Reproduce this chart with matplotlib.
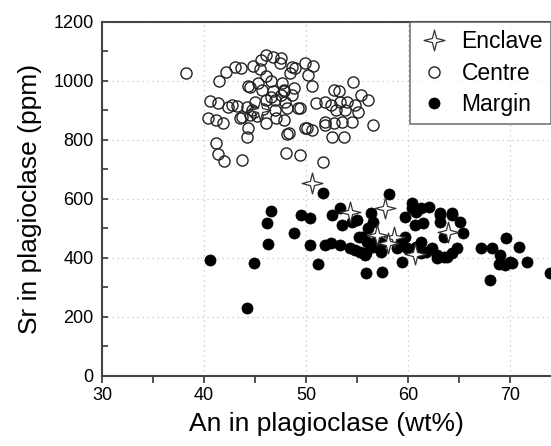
import numpy as np
import matplotlib
matplotlib.use("Agg")
import matplotlib.pyplot as plt
from matplotlib.path import Path
from matplotlib.ticker import MultipleLocator

plt.rcParams['font.family'] = ['Liberation Sans', 'DejaVu Sans']

# ---- data ----
centre_an = [38.2, 41.5, 42.2, 43.0, 43.6, 44.8, 45.6, 46.1, 46.8, 47.5, 47.4, 48.6, 48.4,
             45.5, 46.1, 45.3, 44.5, 46.6, 47.6, 48.6, 47.5, 46.6, 45.0, 40.6, 41.4, 42.4,
             43.2, 44.2, 44.7, 45.8, 47.0, 48.1, 49.2, 40.4, 41.2, 41.9, 43.5, 44.5, 45.2,
             46.1, 47.1, 44.3, 44.2, 41.2, 41.4, 42.0, 43.7, 48.0, 49.4, 48.9, 49.9, 50.7,
             50.2, 50.6, 47.8, 49.4, 51.0, 51.9, 52.7, 53.2, 54.6, 55.4, 56.1, 54.0, 53.3,
             52.4, 52.9, 53.8, 54.8, 55.1, 51.9, 52.7, 53.5, 54.5, 56.6, 50.1, 50.6, 52.5,
             53.7, 48.1, 51.7, 44.3, 45.7, 46.8, 47.8, 48.8, 46.1, 47.0, 47.9, 43.7, 44.9,
             47.8, 49.9, 51.9, 48.3, 42.7]
centre_sr = [1026, 998, 1029, 1046, 1043, 1051, 1071, 1088, 1082, 1077, 1062, 1048, 1028,
             1039, 1015, 992, 979, 998, 992, 953, 953, 947, 930, 932, 926, 911,
             915, 911, 902, 904, 902, 907, 907, 873, 868, 856, 873, 885, 881,
             856, 873, 839, 811, 788, 751, 729, 732, 757, 749, 1043, 1060, 1049,
             1020, 981, 964, 907, 924, 930, 969, 964, 995, 953, 936, 930, 930,
             919, 902, 902, 919, 896, 862, 856, 862, 862, 851, 839, 834, 811,
             811, 820, 726, 981, 969, 964, 969, 975, 936, 936, 930, 879, 896,
             868, 839, 851, 822, 919]

margin_an = [46.6, 46.2, 48.8, 46.3, 40.6, 44.9, 44.2, 49.5, 51.7, 58.1, 50.4, 50.4, 51.2,
             52.5, 53.3, 53.5, 54.5, 55.0, 56.4, 56.6, 56.1, 55.5, 51.9, 52.4, 53.3, 54.3,
             54.8, 55.3, 55.9, 55.8, 56.6, 57.3, 57.3, 55.9, 57.4, 59.4, 58.9, 59.7, 59.9,
             60.8, 60.4, 60.4, 59.7, 60.8, 61.3, 62.0, 60.7, 61.5, 63.1, 63.1, 64.3, 65.1,
             65.4, 63.5, 62.3, 62.8, 63.5, 64.3, 64.8, 61.8, 61.3, 67.1, 68.2, 69.0, 69.6,
             70.9, 70.0, 68.9, 71.6, 68.0, 73.9, 55.2, 61.3, 59.2, 62.8, 63.8, 69.5, 70.2,
             63.1, 64.3, 56.0, 57.0]
margin_sr = [560, 518, 484, 447, 393, 382, 229, 546, 621, 616, 535, 444, 380,
             546, 568, 512, 523, 529, 551, 523, 500, 472, 444, 450, 444, 433,
             427, 421, 416, 410, 438, 450, 421, 348, 353, 387, 433, 472, 433,
             438, 585, 568, 540, 557, 568, 574, 512, 518, 551, 523, 551, 523,
             484, 472, 433, 410, 404, 416, 433, 421, 416, 433, 433, 410, 467,
             436, 387, 380, 387, 325, 348, 472, 455, 455, 399, 404, 376, 382,
             546, 546, 455, 462]

enclave_an = [45.5, 50.6, 54.3, 57.7, 57.0, 58.6, 58.0, 60.7, 63.9]
enclave_sr = [900, 655, 557, 570, 478, 470, 450, 412, 489]

# four-pointed star marker
r = 0.2
star4 = Path([(0, 1), (r, r), (1, 0), (r, -r), (0, -1), (-r, -r), (-1, 0), (-r, r), (0, 1)],
             [Path.MOVETO] + [Path.LINETO] * 7 + [Path.CLOSEPOLY])

fig = plt.figure(figsize=(5.51, 4.46), dpi=100)
ax = fig.add_axes([0.185, 0.157, 0.815, 0.794])

ax.plot(margin_an, margin_sr, 'o', color='black', ms=8, mew=0.5, ls='none', label='Margin')
ax.plot(centre_an, centre_sr, 'o', mfc='none', mec='#222222', ms=8, mew=1.0, ls='none',
        label='Centre')
ax.plot(enclave_an, enclave_sr, marker=star4, mfc='white', mec='#333333', ms=15, mew=0.9,
        ls='none', label='Enclave')

ax.set_xlim(30, 74)
ax.set_ylim(0, 1200)
ax.xaxis.set_major_locator(MultipleLocator(10))
ax.xaxis.set_minor_locator(MultipleLocator(5))
ax.yaxis.set_major_locator(MultipleLocator(200))
ax.yaxis.set_minor_locator(MultipleLocator(100))

ax.grid(True, which='major', ls=(0, (1, 3)), color='#c4c4c4', lw=0.9)
ax.set_axisbelow(True)

ax.tick_params(axis='y', which='both', direction='in', length=4, width=1.3,
               color='#444444', labelsize=13, pad=6)
ax.tick_params(axis='x', which='both', direction='out', length=5, width=1.3,
               color='#444444', labelsize=13, pad=3)

for side in ['left', 'bottom', 'top']:
    ax.spines[side].set_color('#444444')
    ax.spines[side].set_linewidth(1.5)
ax.spines['right'].set_visible(False)

ax.set_xlabel('An in plagioclase (wt%)', fontsize=19, labelpad=6)
ax.set_ylabel('Sr in plagioclase (ppm)', fontsize=19, labelpad=8)

# legend order: Enclave, Centre, Margin
h, l = ax.get_legend_handles_labels()
leg = ax.legend([h[2], h[1], h[0]], [l[2], l[1], l[0]], loc='upper right',
                fontsize=16.5, frameon=True, fancybox=False, borderaxespad=0,
                handletextpad=0.5, labelspacing=0.38, borderpad=0.35, handlelength=1.4)
leg.get_frame().set_edgecolor('#555555')
leg.get_frame().set_linewidth(1.2)

fig.savefig('out.png', dpi=100)
